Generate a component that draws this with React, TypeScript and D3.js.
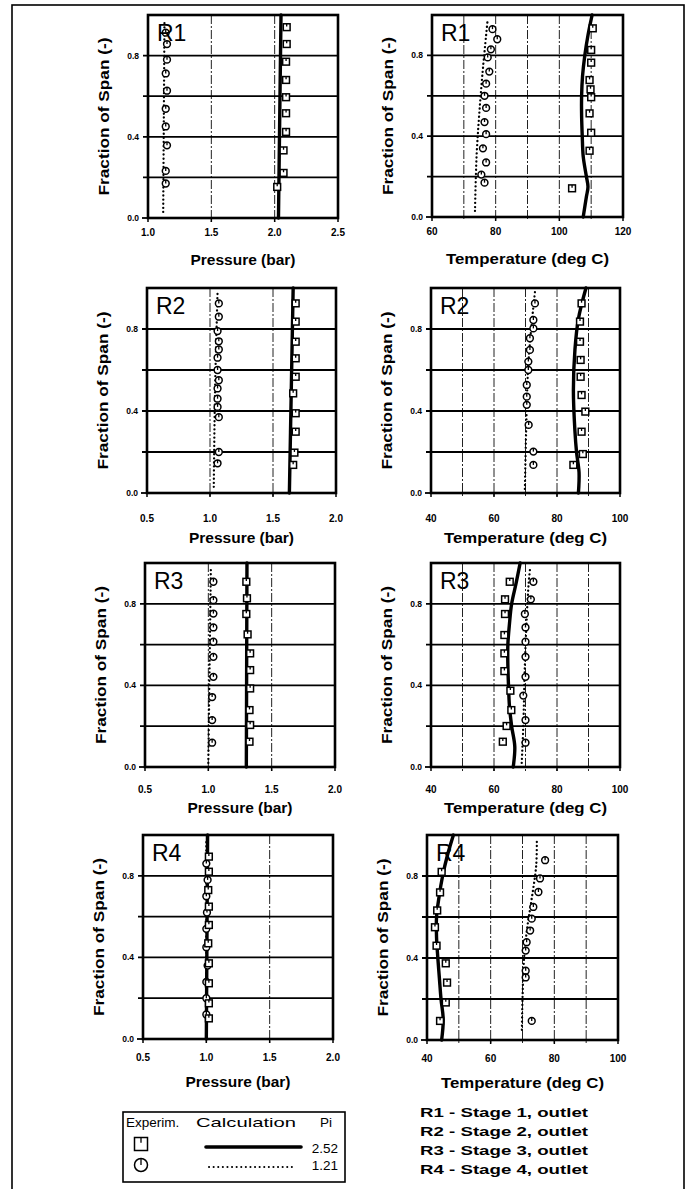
import React from 'react';
import * as d3 from 'd3';

type Pt = [number, number]; // [fraction of span, value]

// ---- data: [span, value] ----
const r1PresCalcHi: Pt[] = [[0, 2.03], [0.5, 2.04], [1, 2.05]];
const r1PresCalcLo: Pt[] = [[0.03, 1.12], [0.5, 1.125], [0.97, 1.13]];
const r1PresExpHi: Pt[] = [[0.94, 2.095], [0.857, 2.095], [0.77, 2.09], [0.68, 2.09], [0.595, 2.09], [0.516, 2.09], [0.424, 2.09], [0.333, 2.07], [0.222, 2.07], [0.153, 2.02]];
const r1PresExpLo: Pt[] = [[0.913, 1.14], [0.857, 1.15], [0.78, 1.15], [0.712, 1.14], [0.627, 1.15], [0.538, 1.14], [0.451, 1.14], [0.358, 1.15], [0.232, 1.14], [0.17, 1.14]];

const r1TempCalcHi: Pt[] = [[0, 107.5], [0.1, 108.5], [0.15, 109], [0.2, 108.5], [0.3, 107.5], [0.4, 107.2], [0.5, 107], [0.6, 107], [0.7, 107.3], [0.8, 108], [0.9, 109], [1, 110.3]];
const r1TempCalcLo: Pt[] = [[0.03, 73.5], [0.3, 74], [0.5, 74.8], [0.7, 75.8], [0.9, 77], [0.98, 77.5]];
const r1TempExpHi: Pt[] = [[0.934, 110.5], [0.827, 110], [0.764, 110], [0.678, 109.5], [0.632, 109.8], [0.593, 110], [0.513, 109.5], [0.417, 110], [0.328, 109.5], [0.142, 104]];
const r1TempExpLo: Pt[] = [[0.93, 79], [0.88, 80.5], [0.83, 78.5], [0.79, 77.5], [0.72, 78], [0.66, 77], [0.6, 76.5], [0.54, 77], [0.47, 76.5], [0.41, 77], [0.34, 76], [0.27, 77], [0.21, 75.5], [0.17, 76.5]];

const r2PresCalcHi: Pt[] = [[0, 1.63], [0.5, 1.645], [1, 1.66]];
const r2PresCalcLo: Pt[] = [[0.03, 1.03], [0.5, 1.04], [0.98, 1.06]];
const r2PresExpHi: Pt[] = [[0.925, 1.68], [0.836, 1.68], [0.738, 1.68], [0.657, 1.68], [0.567, 1.68], [0.486, 1.66], [0.389, 1.68], [0.299, 1.68], [0.197, 1.67], [0.137, 1.66]];
const r2PresExpLo: Pt[] = [[0.925, 1.07], [0.86, 1.07], [0.79, 1.06], [0.74, 1.07], [0.7, 1.07], [0.66, 1.06], [0.6, 1.06], [0.55, 1.07], [0.51, 1.06], [0.46, 1.06], [0.42, 1.06], [0.37, 1.07], [0.2, 1.07], [0.145, 1.06]];

const r2TempCalcHi: Pt[] = [[0, 86.8], [0.1, 87], [0.2, 86.2], [0.3, 85.7], [0.5, 85.2], [0.7, 85.7], [0.85, 86.8], [1, 89.2]];
const r2TempCalcLo: Pt[] = [[0.02, 69.8], [0.3, 70.2], [0.6, 70.8], [0.8, 71.8], [0.98, 73]];
const r2TempExpHi: Pt[] = [[0.925, 87.8], [0.836, 87.3], [0.738, 87.3], [0.649, 87.5], [0.567, 87.5], [0.478, 87.8], [0.397, 89], [0.299, 87.8], [0.19, 88.2], [0.137, 85.2]];
const r2TempExpLo: Pt[] = [[0.925, 73], [0.844, 72.5], [0.803, 72.5], [0.755, 71.4], [0.698, 71.4], [0.641, 70.9], [0.6, 70.9], [0.527, 70.4], [0.47, 70.4], [0.43, 70.4], [0.332, 71], [0.202, 72.5], [0.137, 72.5]];

const r3PresCalcHi: Pt[] = [[0, 1.3], [1, 1.305]];
const r3PresCalcLo: Pt[] = [[0.02, 1.0], [0.5, 1.01], [0.98, 1.02]];
const r3PresExpHi: Pt[] = [[0.908, 1.3], [0.827, 1.305], [0.75, 1.3], [0.65, 1.31], [0.557, 1.33], [0.475, 1.33], [0.385, 1.33], [0.279, 1.325], [0.206, 1.33], [0.124, 1.325]];
const r3PresExpLo: Pt[] = [[0.908, 1.04], [0.818, 1.04], [0.752, 1.04], [0.684, 1.04], [0.614, 1.04], [0.54, 1.04], [0.442, 1.04], [0.343, 1.03], [0.23, 1.03], [0.119, 1.03]];

const r3TempCalcHi: Pt[] = [[0, 66.1], [0.1, 66.6], [0.2, 65.6], [0.3, 64.9], [0.4, 64.6], [0.5, 64.4], [0.6, 64.4], [0.7, 64.9], [0.8, 65.6], [0.9, 67], [1, 68.3]];
const r3TempCalcLo: Pt[] = [[0.02, 68.8], [0.2, 69.3], [0.5, 69.8], [0.7, 70.3], [0.9, 71], [0.98, 71.5]];
const r3TempExpHi: Pt[] = [[0.908, 65], [0.822, 63.5], [0.75, 63.5], [0.647, 63.3], [0.557, 63.3], [0.47, 63.3], [0.374, 65.2], [0.279, 65.5], [0.201, 64], [0.124, 62.8]];
const r3TempExpLo: Pt[] = [[0.908, 72.5], [0.822, 71.7], [0.75, 69.8], [0.684, 70], [0.614, 70], [0.54, 70], [0.442, 70], [0.35, 69.3], [0.23, 70], [0.119, 70]];

const r4PresCalcHi: Pt[] = [[0, 1.0], [1, 1.01]];
const r4PresCalcLo: Pt[] = [[0.02, 1.0], [0.98, 1.0]];
const r4PresExpHi: Pt[] = [[0.894, 1.02], [0.82, 1.02], [0.73, 1.015], [0.649, 1.02], [0.559, 1.02], [0.469, 1.015], [0.371, 1.02], [0.273, 1.02], [0.175, 1.02], [0.101, 1.02]];
const r4PresExpLo: Pt[] = [[0.86, 1.0], [0.78, 1.01], [0.7, 1.0], [0.62, 1.005], [0.54, 1.0], [0.45, 1.0], [0.36, 1.01], [0.28, 1.0], [0.2, 1.0], [0.12, 1.0]];

const r4TempCalcHi: Pt[] = [[0, 44.6], [0.1, 45.1], [0.2, 44.4], [0.3, 43.9], [0.4, 43.4], [0.5, 43], [0.6, 43], [0.7, 43.8], [0.8, 44.9], [0.9, 46.4], [1, 48.3]];
const r4TempCalcLo: Pt[] = [[0.05, 69.8], [0.2, 70], [0.4, 70.5], [0.55, 71.5], [0.7, 73], [0.85, 74.3], [0.98, 74.5]];
const r4TempExpHi: Pt[] = [[0.82, 44.6], [0.72, 44.1], [0.632, 43.2], [0.55, 42.5], [0.46, 43], [0.374, 45.9], [0.28, 46.3], [0.183, 45.9], [0.093, 44.1]];
const r4TempExpLo: Pt[] = [[0.877, 77.1], [0.788, 75.5], [0.722, 75], [0.649, 73.4], [0.592, 72.9], [0.534, 72.4], [0.477, 71.3], [0.436, 71], [0.338, 71], [0.305, 71], [0.093, 72.9]];

const presTicksR1 = [1.0, 1.5, 2.0, 2.5];
const presTicks = [0.5, 1.0, 1.5, 2.0];
const tempTicksR1 = [60, 80, 100, 120];
const tempTicks = [40, 60, 80, 100];
const spanTicks = [0, 0.4, 0.8];
const spanGrid = [0.2, 0.4, 0.6, 0.8];

const legendRows = [
  { pi: '2.52', sym: 'square', line: 'solid' },
  { pi: '1.21', sym: 'circle', line: 'dotted' },
];
const stageNotes = ['R1 - Stage 1, outlet', 'R2 - Stage 2, outlet', 'R3 - Stage 3, outlet', 'R4 - Stage 4, outlet'];

const FONT = '"Liberation Sans", Arial, Helvetica, sans-serif';

type PanelDef = {
  label: string;
  box: [number, number, number, number]; // x0, x1, top, bottom
  gaps: [number, number]; // tick label, title offsets below the frame
  domain: [number, number];
  ticks: number[];
  gridStep: number;
  fmt: (v: number) => string;
  title: string;
  titleLen: number;
  hi: Pt[]; lo: Pt[]; expHi: Pt[]; expLo: Pt[];
};

const f1 = d3.format('.1f');
const f0 = d3.format('d');

const panels: PanelDef[] = [
  { label: 'R1', box: [148, 338, 15, 218], gaps: [18, 47], domain: [1, 2.5], ticks: presTicksR1, gridStep: 0.5, fmt: f1, title: 'Pressure (bar)', titleLen: 105, hi: r1PresCalcHi, lo: r1PresCalcLo, expHi: r1PresExpHi, expLo: r1PresExpLo },
  { label: 'R1', box: [432, 623, 15, 217], gaps: [18, 47], domain: [60, 120], ticks: tempTicksR1, gridStep: 10, fmt: f0, title: 'Temperature (deg C)', titleLen: 163, hi: r1TempCalcHi, lo: r1TempCalcLo, expHi: r1TempExpHi, expLo: r1TempExpLo },
  { label: 'R2', box: [147, 336, 288, 493], gaps: [29, 50], domain: [0.5, 2], ticks: presTicks, gridStep: 0.5, fmt: f1, title: 'Pressure (bar)', titleLen: 105, hi: r2PresCalcHi, lo: r2PresCalcLo, expHi: r2PresExpHi, expLo: r2PresExpLo },
  { label: 'R2', box: [431, 620, 288, 493], gaps: [29, 50], domain: [40, 100], ticks: tempTicks, gridStep: 10, fmt: f0, title: 'Temperature (deg C)', titleLen: 163, hi: r2TempCalcHi, lo: r2TempCalcLo, expHi: r2TempExpHi, expLo: r2TempExpLo },
  { label: 'R3', box: [145, 335, 563, 767], gaps: [26, 46], domain: [0.5, 2], ticks: presTicks, gridStep: 0.5, fmt: f1, title: 'Pressure (bar)', titleLen: 105, hi: r3PresCalcHi, lo: r3PresCalcLo, expHi: r3PresExpHi, expLo: r3PresExpLo },
  { label: 'R3', box: [431, 620, 563, 767], gaps: [26, 46], domain: [40, 100], ticks: tempTicks, gridStep: 10, fmt: f0, title: 'Temperature (deg C)', titleLen: 163, hi: r3TempCalcHi, lo: r3TempCalcLo, expHi: r3TempExpHi, expLo: r3TempExpLo },
  { label: 'R4', box: [143, 333, 835, 1039], gaps: [22, 48], domain: [0.5, 2], ticks: presTicks, gridStep: 0.5, fmt: f1, title: 'Pressure (bar)', titleLen: 105, hi: r4PresCalcHi, lo: r4PresCalcLo, expHi: r4PresExpHi, expLo: r4PresExpLo },
  { label: 'R4', box: [427, 618, 835, 1040], gaps: [22, 48], domain: [40, 100], ticks: tempTicks, gridStep: 10, fmt: f0, title: 'Temperature (deg C)', titleLen: 163, hi: r4TempCalcHi, lo: r4TempCalcLo, expHi: r4TempExpHi, expLo: r4TempExpLo },
];

const SquareMark = ({ cx, cy, s }: { cx: number; cy: number; s: number }) => (
  <g>
    <rect x={cx - s / 2} y={cy - s / 2} width={s} height={s} fill="#fff" stroke="#000" strokeWidth={1.5} />
    <line x1={cx} y1={cy - s / 2} x2={cx} y2={cy - s / 2 + s * 0.4} stroke="#000" strokeWidth={1.3} />
  </g>
);

const CircleMark = ({ cx, cy, r }: { cx: number; cy: number; r: number }) => (
  <g>
    <circle cx={cx} cy={cy} r={r} fill="#fff" stroke="#000" strokeWidth={1.5} />
    <line x1={cx} y1={cy - r} x2={cx} y2={cy} stroke="#000" strokeWidth={1.3} />
  </g>
);

const Panel = ({ p }: { p: PanelDef }) => {
  const [x0, x1, top, bottom] = p.box;
  const x = d3.scaleLinear().domain(p.domain).range([x0, x1]);
  const y = d3.scaleLinear().domain([0, 1]).range([bottom, top]);
  const line = d3.line<Pt>().x(d => x(d[1])).y(d => y(d[0])).curve(d3.curveCatmullRom);
  const vgrid = d3.range(p.domain[0] + p.gridStep, p.domain[1] - p.gridStep / 2, p.gridStep);
  const cx = (x0 + x1) / 2;
  const cy = (top + bottom) / 2;
  const yTitleX = x0 - 39;
  return (
    <g>
      {vgrid.map((v, i) => (
        <line key={'v' + i} x1={x(v)} x2={x(v)} y1={top} y2={bottom + 4} stroke="#222" strokeWidth={1} strokeDasharray="9,2,2,2" />
      ))}
      {spanGrid.map((v, i) => (
        <line key={'h' + i} x1={x0 - 5} x2={x1} y1={y(v)} y2={y(v)} stroke="#000" strokeWidth={1.8} />
      ))}
      <line x1={x0 - 6} x2={x0} y1={y(0)} y2={y(0)} stroke="#000" strokeWidth={1.8} />
      {p.ticks.map((t, i) => (
        <line key={'xt' + i} x1={x(t)} x2={x(t)} y1={bottom} y2={bottom + 4} stroke="#000" strokeWidth={1.5} />
      ))}
      <rect x={x0} y={top} width={x1 - x0} height={bottom - top} fill="none" stroke="#000" strokeWidth={2.6} />
      <path d={line(p.lo) || ''} fill="none" stroke="#000" strokeWidth={2.3} strokeDasharray="0.1,4" strokeLinecap="round" />
      <path d={line(p.hi) || ''} fill="none" stroke="#000" strokeWidth={3.4} strokeLinecap="round" />
      {p.expLo.map((d, i) => <CircleMark key={'c' + i} cx={x(d[1])} cy={y(d[0])} r={3.4} />)}
      {p.expHi.map((d, i) => <SquareMark key={'s' + i} cx={x(d[1])} cy={y(d[0])} s={6.8} />)}
      <text x={x0 + 9} y={top + 26} fontSize={23} fontFamily={FONT}>{p.label}</text>
      {spanTicks.map((t, i) => (
        <text key={'yl' + i} x={x0 - 9} y={y(t) + 3} fontSize={8.5} fontWeight="bold" fontFamily={FONT} textAnchor="end">{f1(t)}</text>
      ))}
      {p.ticks.map((t, i) => (
        <text key={'xl' + i} x={x(t)} y={bottom + p.gaps[0]} fontSize={10} fontWeight="bold" fontFamily={FONT} textAnchor="middle">{p.fmt(t)}</text>
      ))}
      <text x={cx} y={bottom + p.gaps[1]} fontSize={14} fontWeight="bold" fontFamily={FONT} textAnchor="middle" textLength={p.titleLen} lengthAdjust="spacingAndGlyphs">{p.title}</text>
      <text transform={`translate(${yTitleX},${cy}) rotate(-90)`} fontSize={14} fontWeight="bold" fontFamily={FONT} textAnchor="middle" textLength={158} lengthAdjust="spacingAndGlyphs">Fraction of Span (-)</text>
    </g>
  );
};

const Legend = () => {
  const rowY = [1147, 1164];
  return (
    <g fontFamily={FONT}>
      <rect x={123} y={1112} width={222} height={70} fill="#fff" stroke="#000" strokeWidth={1.6} />
      <text x={126} y={1127} fontSize={13.5}>Experim.</text>
      <text x={246} y={1127} fontSize={13.5} textAnchor="middle" textLength={100} lengthAdjust="spacingAndGlyphs">Calculation</text>
      <text x={326} y={1127} fontSize={13.5} textAnchor="middle">Pi</text>
      {legendRows.map((r, i) => (
        <g key={i}>
          {r.sym === 'square'
            ? <SquareMark cx={141} cy={rowY[i] - 3} s={13} />
            : <CircleMark cx={141} cy={rowY[i] + 1} r={6.5} />}
          {r.line === 'solid'
            ? <line x1={206} x2={301} y1={rowY[i]} y2={rowY[i]} stroke="#000" strokeWidth={3.6} strokeLinecap="round" />
            : <line x1={209} x2={292} y1={rowY[i] + 3} y2={rowY[i] + 3} stroke="#000" strokeWidth={2} strokeDasharray="0.1,4.5" strokeLinecap="round" />}
          <text x={338} y={rowY[i] + 6} fontSize={13.5} textAnchor="end">{r.pi}</text>
        </g>
      ))}
      {stageNotes.map((s, i) => (
        <text key={s} x={420} y={1117 + i * 19} fontSize={13} fontWeight="bold" textLength={168} lengthAdjust="spacingAndGlyphs">{s}</text>
      ))}
    </g>
  );
};

export default function App() {
  return (
    <svg width={688} height={1189} style={{ position: 'absolute', left: 0, top: 0, background: '#fff' }}>
      <rect x={0} y={0} width={688} height={1189} fill="#fff" />
      <rect x={12} y={5} width={672} height={1200} fill="none" stroke="#000" strokeWidth={1.6} />
      {panels.map((p, i) => <Panel key={i} p={p} />)}
      <Legend />
    </svg>
  );
}
